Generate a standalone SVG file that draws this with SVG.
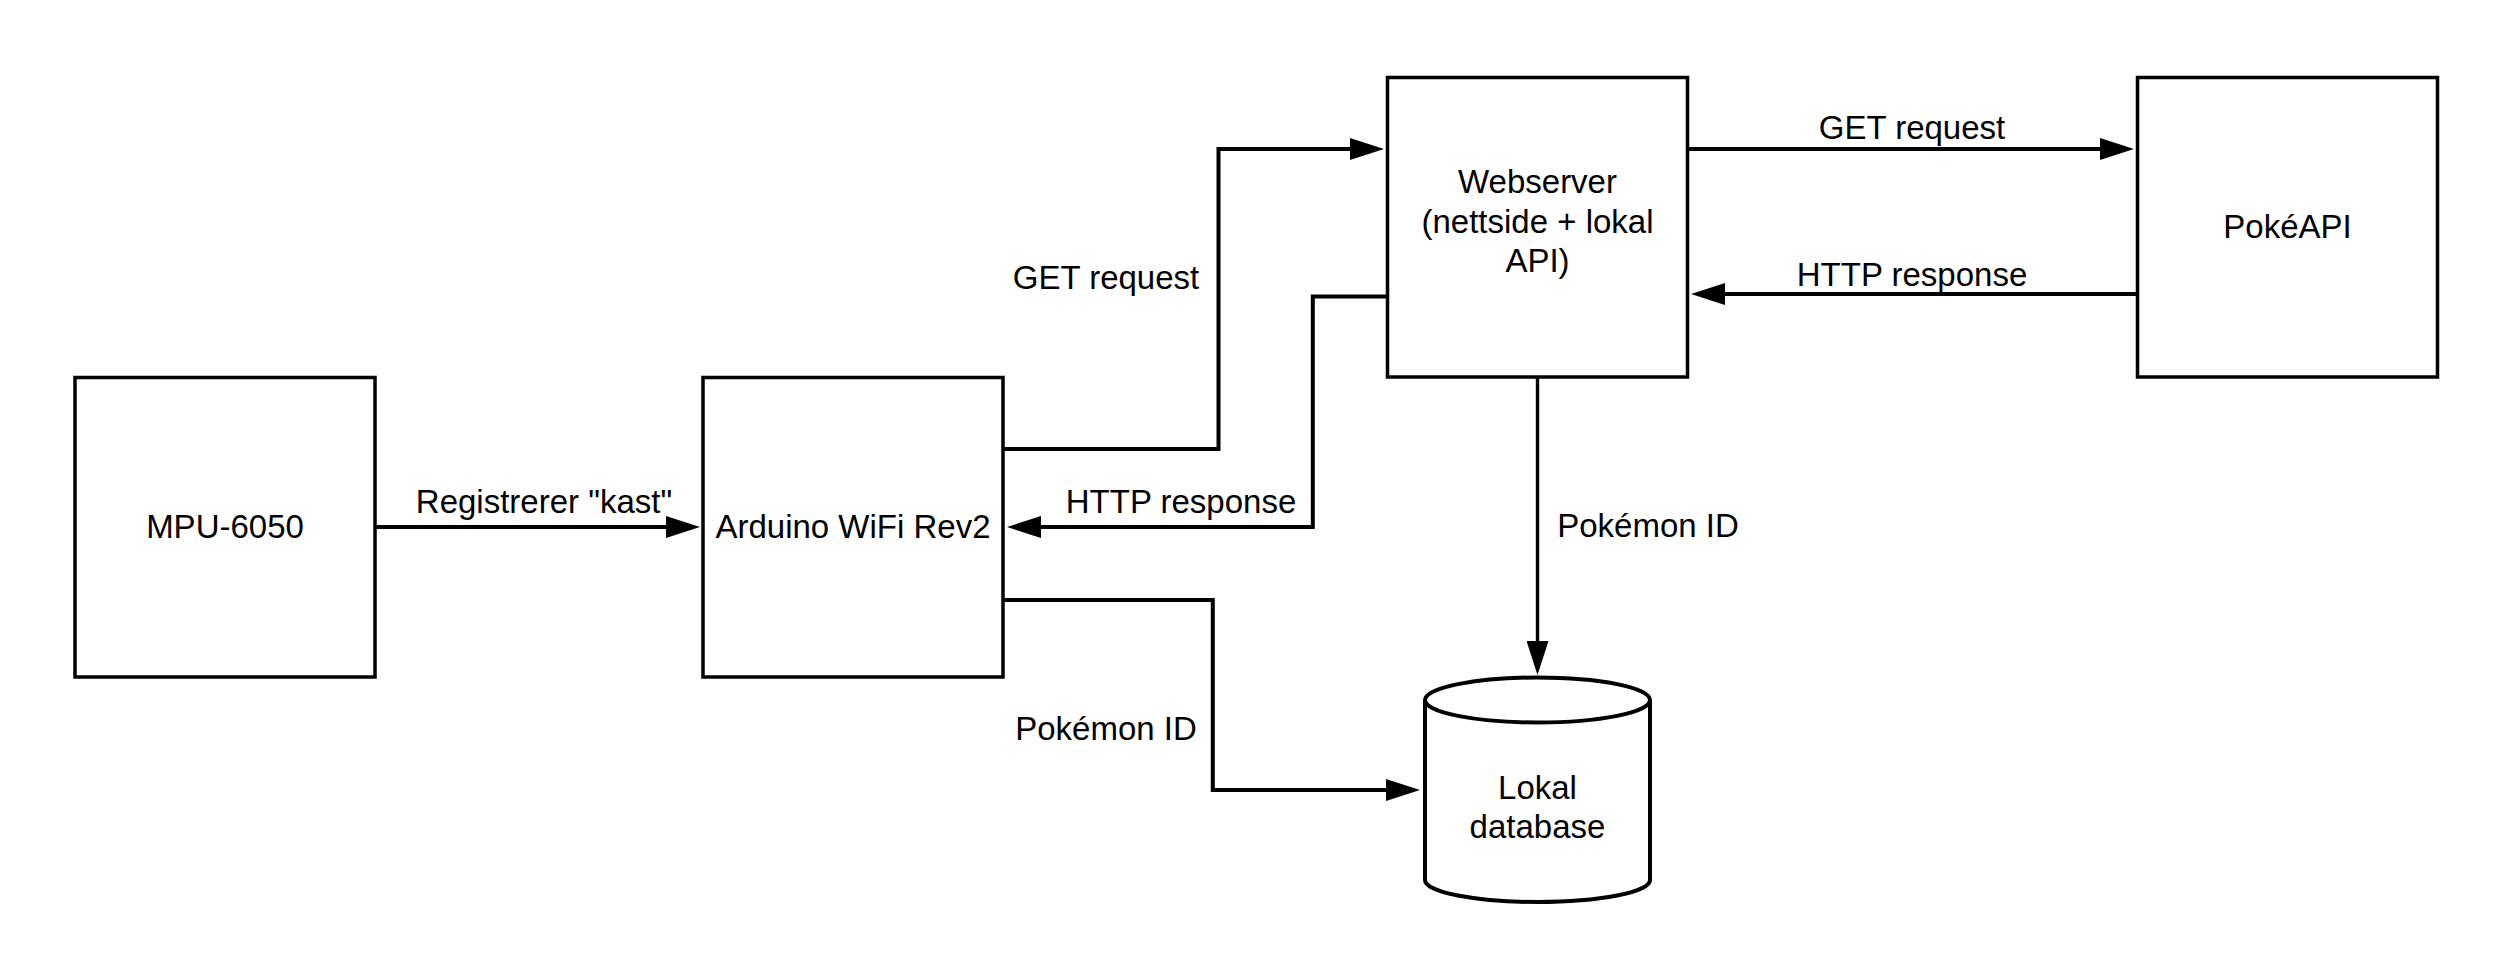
<svg xmlns="http://www.w3.org/2000/svg" width="2513" height="979" viewBox="0 0 2513 979">
<style>
.box{fill:#fff;stroke:#000;stroke-width:3.5}
.lbl{font-family:"Liberation Sans",Arial,sans-serif;font-size:33px;fill:#000;text-anchor:middle}
.conn{fill:none;stroke:#000;stroke-width:4;marker-end:url(#ah)}
.thin{stroke-width:3.4}
</style>
<defs>
<marker id="ah" markerUnits="userSpaceOnUse" markerWidth="34" markerHeight="22" refX="28" refY="11" orient="auto">
<path d="M0,0 L34,11 L0,22 Z" fill="#000"/>
</marker>
</defs>
<rect width="2513" height="979" fill="#fff"/>
<g id="connectors">
<path class="conn" d="M375,527 L694,527"/>
<path class="conn" d="M1003,449 L1218.5,449 L1218.5,149 L1378,149"/>
<path class="conn" d="M1387.5,296.5 L1312.8,296.5 L1312.8,527 L1013,527"/>
<path class="conn" d="M1003,600 L1212.8,600 L1212.8,790 L1414,790"/>
<path class="conn thin" d="M1537.5,377 L1537.5,669"/>
<path class="conn" d="M1687.5,149 L2128,149"/>
<path class="conn" d="M2137.5,294 L1697,294"/>
<text class="lbl" x="544" y="513">Registrerer "kast"</text>
<text class="lbl" x="1106" y="289">GET request</text>
<text class="lbl" x="1181" y="513">HTTP response</text>
<text class="lbl" x="1106" y="740">Pokémon ID</text>
<text class="lbl" x="1648" y="537">Pokémon ID</text>
<text class="lbl" x="1912" y="139">GET request</text>
<text class="lbl" x="1912" y="286">HTTP response</text>
</g>
<g id="mpu">
<rect class="box" x="75" y="377.5" width="300" height="299.5"/>
<text class="lbl" x="225" y="538">MPU-6050</text>
</g>
<g id="arduino">
<rect class="box" x="703" y="377.5" width="300" height="299.5"/>
<text class="lbl" x="853" y="538">Arduino WiFi Rev2</text>
</g>
<g id="webserver">
<rect class="box" x="1387.5" y="77.5" width="300" height="299.5"/>
<text class="lbl" x="1537.5" y="193">Webserver</text>
<text class="lbl" x="1537.5" y="232.5">(nettside + lokal</text>
<text class="lbl" x="1537.5" y="272">API)</text>
</g>
<g id="pokeapi">
<rect class="box" x="2137.5" y="77.5" width="300" height="299.5"/>
<text class="lbl" x="2287.5" y="238">PokéAPI</text>
</g>
<g id="database">
<path class="box" d="M1425,700 L1425,880 A112.5,22 0 0 0 1650,880 L1650,700" style="stroke-width:4"/>
<ellipse class="box" cx="1537.5" cy="700" rx="112.5" ry="22.5" style="stroke-width:4"/>
<text class="lbl" x="1537.5" y="799">Lokal</text>
<text class="lbl" x="1537.5" y="838">database</text>
</g>
</svg>
